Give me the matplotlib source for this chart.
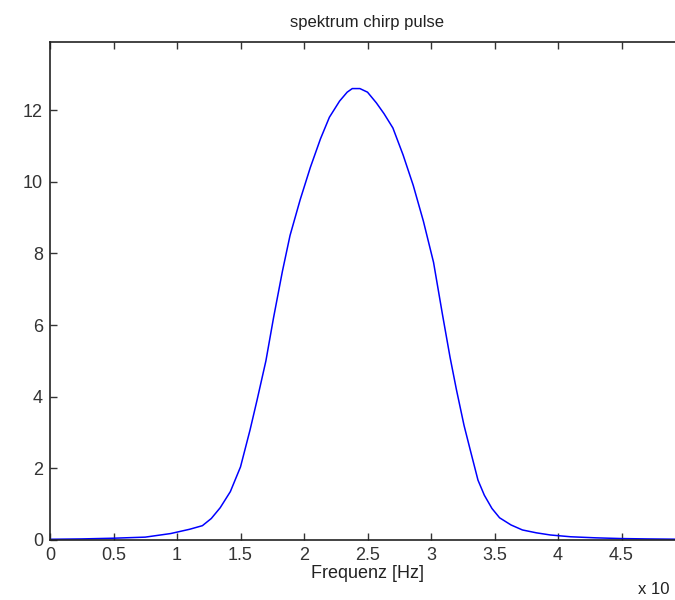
import matplotlib
matplotlib.use("Agg")
import matplotlib.pyplot as plt

plt.rcParams['font.family'] = ['Liberation Sans', 'DejaVu Sans']

# frequency in units of the axis multiplier (x 10^n Hz)
freq = [0.0, 0.25, 0.5, 0.75, 0.95, 1.1, 1.2, 1.27, 1.34, 1.42, 1.5, 1.575,
        1.63, 1.7, 1.76, 1.83, 1.89, 1.97, 2.05, 2.13, 2.2, 2.28, 2.34, 2.38,
        2.44, 2.5, 2.57, 2.63, 2.7, 2.78, 2.86, 2.94, 3.02, 3.09, 3.15, 3.2,
        3.26, 3.31, 3.37, 3.42, 3.48, 3.54, 3.63, 3.72, 3.83, 3.94, 4.1, 4.3,
        4.5, 4.7, 5.0]
spec = [0.02, 0.03, 0.05, 0.08, 0.18, 0.3, 0.4, 0.6, 0.9, 1.35, 2.04, 3.07,
        3.9, 5.0, 6.2, 7.5, 8.5, 9.5, 10.4, 11.2, 11.8, 12.25, 12.5, 12.6,
        12.6, 12.5, 12.2, 11.9, 11.5, 10.75, 9.9, 8.9, 7.75, 6.3, 5.1, 4.2,
        3.2, 2.5, 1.67, 1.25, 0.88, 0.62, 0.42, 0.28, 0.2, 0.14, 0.09, 0.06,
        0.04, 0.03, 0.02]

xticks = [0, 0.5, 1, 1.5, 2, 2.5, 3, 3.5, 4, 4.5]
xticklabels = ['0', '0.5', '1', '1.5', '2', '2.5', '3', '3.5', '4', '4.5']
yticks = [0, 2, 4, 6, 8, 10, 12]

fig = plt.figure(figsize=(6.75, 6.0), dpi=100)
ax = fig.add_axes([50 / 675, 0.1, 635 / 675, 0.83])

ax.plot(freq, spec, color='#0000ff', lw=1.1)
ax.set_xlim(0, 5)
ax.set_ylim(0, 13.9)
ax.set_xticks(xticks)
ax.set_xticklabels(xticklabels)
ax.set_yticks(yticks)
ax.tick_params(direction='in', length=5, width=1, top=True, right=True,
               labelsize=13, colors='#333333', pad=5)
for s in ax.spines.values():
    s.set_linewidth(1.2)
    s.set_color('#222222')

ax.set_title('spektrum chirp pulse', fontsize=12, pad=11, color='#222222')
ax.set_xlabel('Frequenz [Hz]', fontsize=13, labelpad=1, color='#222222')
fig.text(638 / 675, 3 / 600, 'x 10', fontsize=12, ha='left', va='bottom',
         color='#222222')

fig.savefig('out.png', dpi=100)
